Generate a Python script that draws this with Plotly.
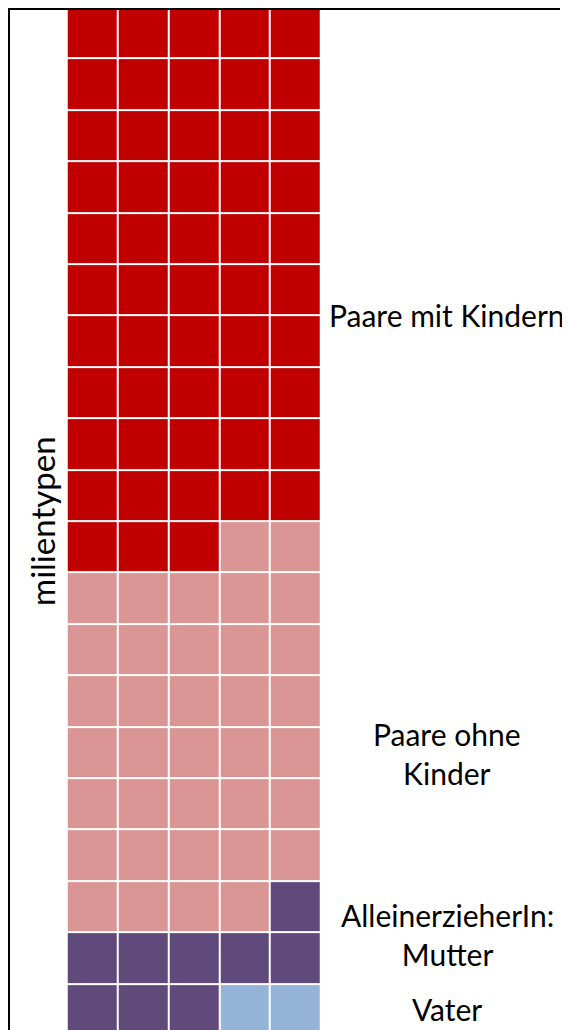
import plotly.graph_objects as go

# Data
categories = ["Paare mit Kindern", "Paare ohne Kinder", "AlleinerzieherIn: Mutter", "AlleinerzieherIn: Vater"]
counts = [53, 36, 9, 2]
colors = ["#C00000", "#DA9694", "#604A7B", "#95B3D7"]
n_cols = 5
n_rows = 20

# Build waffle grid (row-major from top, left to right)
cells = []
for i, c in enumerate(counts):
    cells += [i] * c
z = [cells[r * n_cols:(r + 1) * n_cols] for r in range(n_rows)]
text = [[categories[v] for v in row] for row in z]

# The page body adds an 8px margin, so the figure covers the visible window
OFF = 8
W, H = 570 - OFF, 1030 - OFF
colorscale = [[i / (len(colors) - 1), col] for i, col in enumerate(colors)]

fig = go.Figure(go.Heatmap(
    z=z,
    x=list(range(n_cols)),
    y=list(range(n_rows)),
    text=text,
    hoverinfo="text",
    colorscale=colorscale,
    zmin=0, zmax=len(colors) - 1,
    showscale=False,
    xgap=2, ygap=2,
))

font = "Lato, Carlito, Calibri, sans-serif"

def px_x(p):
    return (p - OFF) / W

def px_y(p):
    return 1 - (p - OFF) / H

annos = [
    ("Paare mit Kindern", 447, 315),
    ("Paare ohne<br>Kinder", 447, 753),
    ("AlleinerzieherIn:<br>Mutter", 447, 934),
    ("Vater", 447, 1009),
]
for t, x, y in annos:
    fig.add_annotation(text=t, x=px_x(x), y=px_y(y), xref="paper", yref="paper",
                       xanchor="center", yanchor="middle", showarrow=False,
                       font=dict(family=font, size=30, color="#000000"))

fig.add_annotation(text="milientypen", x=px_x(42), y=px_y(521), xref="paper", yref="paper",
                   xanchor="center", yanchor="middle", showarrow=False, textangle=-90,
                   font=dict(family=font, size=33, color="#000000"))

# Frame lines (left and top edges of the chart area)
fig.add_shape(type="line", xref="paper", yref="paper", x0=px_x(9), x1=px_x(9),
              y0=px_y(8), y1=px_y(1040), line=dict(color="black", width=2), layer="above")
fig.add_shape(type="line", xref="paper", yref="paper", x0=px_x(8), x1=px_x(560),
              y0=px_y(9), y1=px_y(9), line=dict(color="black", width=2), layer="above")

fig.update_layout(
    width=W, height=H,
    margin=dict(l=0, r=0, t=0, b=0),
    paper_bgcolor="white", plot_bgcolor="white",
    xaxis=dict(range=[-1.6541, 9.396], visible=False, fixedrange=True),
    yaxis=dict(range=[19.401, -0.4825], visible=False, fixedrange=True),
    showlegend=False,
)

fig.write_html("out.html")
